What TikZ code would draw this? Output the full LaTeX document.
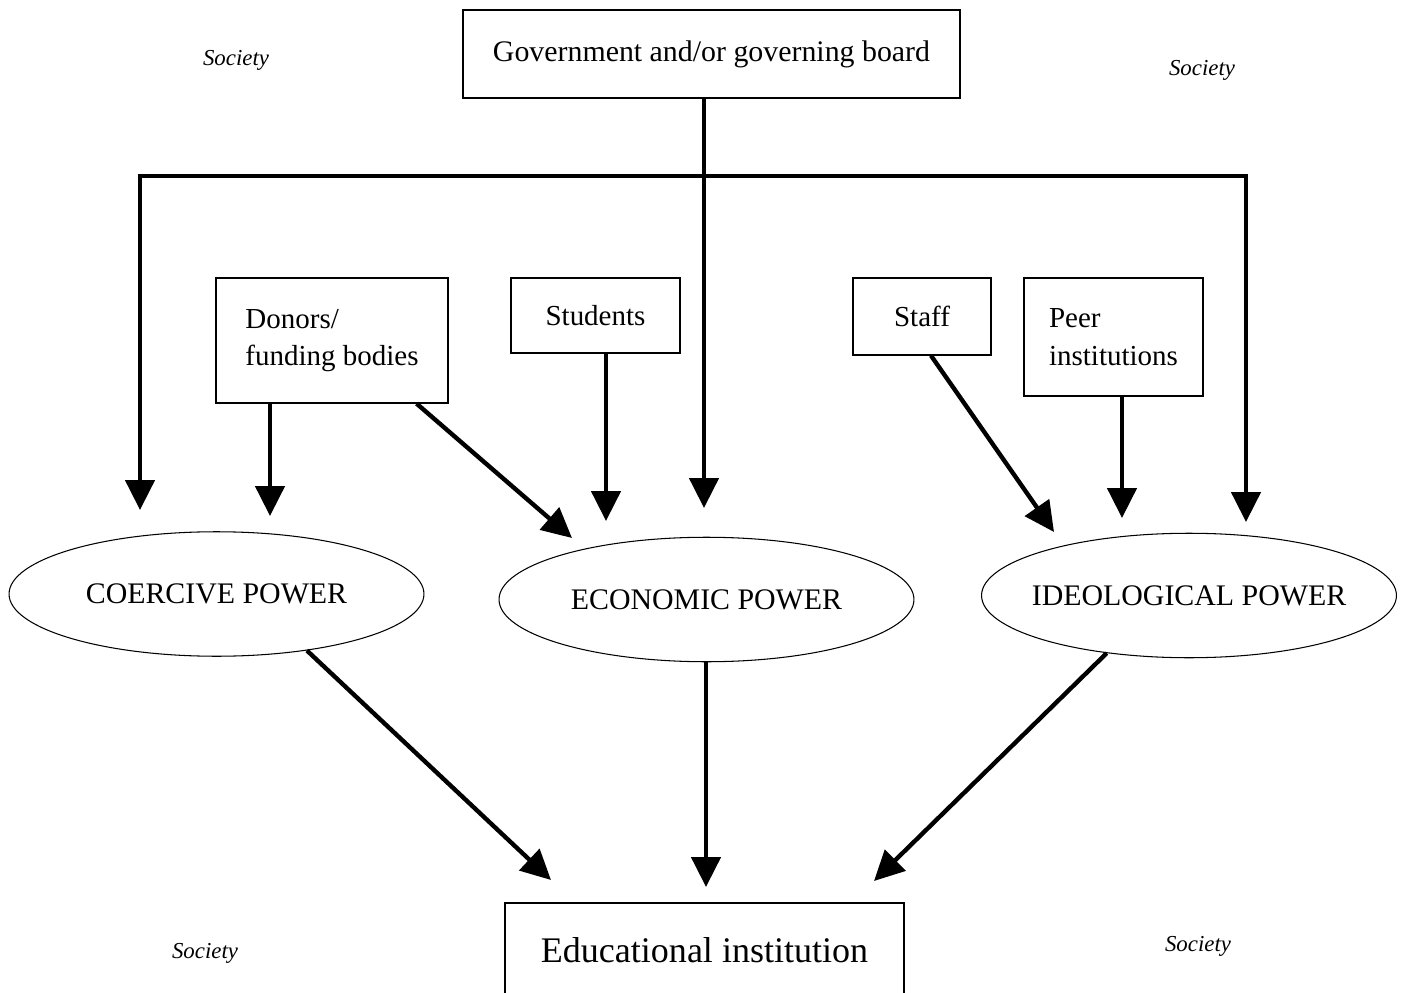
\documentclass[tikz,border=0pt]{standalone}
\usepackage{fontspec}
\setmainfont{Liberation Serif}
\usetikzlibrary{arrows.meta,shapes.geometric,calc}
\begin{document}
\begin{tikzpicture}[x=0.02cm,y=-0.02cm,
  >={Triangle[length=17pt,width=16.5pt]},
  box/.style={draw,line width=0.7pt,inner sep=0pt,align=left},
  boxtext/.style={font=\fontsize{16.5}{21.5}\selectfont},
  power/.style={ellipse,draw,line width=0.6pt,inner sep=0pt,
    minimum width=8.3cm,minimum height=2.49cm,
    font=\fontsize{17}{20}\selectfont},
  society/.style={font=\fontsize{13}{15}\selectfont\itshape},
  link/.style={line width=2.5pt,->},
  bar/.style={line width=2.5pt,<->}]
\clip (0,0) rectangle (1407,993);
\fill[white] (0,0) rectangle (1407,993);

% boxes
\node[box,minimum width=9.94cm,minimum height=1.76cm,
  font=\fontsize{17}{20}\selectfont,align=center] (gov) at (711.5,54)
  {Government and/or governing board};
\node[box,boxtext,minimum width=4.64cm,minimum height=2.5cm] (donors) at (332,340.5)
  {Donors/\\funding bodies};
\node[box,boxtext,minimum width=3.38cm,minimum height=1.5cm] (students) at (595.5,315.5)
  {Students};
\node[box,boxtext,minimum width=2.76cm,minimum height=1.54cm] (staff) at (922,316.5)
  {Staff};
\node[box,boxtext,minimum width=3.58cm,minimum height=2.36cm] (peer) at (1113.5,337)
  {Peer\\institutions};
\node[box,minimum width=7.98cm,minimum height=1.88cm,
  font=\fontsize{20.5}{24}\selectfont] (edu) at (704.5,950)
  {Educational institution};

% forms of power (text boxes of zero width keep the ellipses at a fixed size)
\node[power] (coercive) at (216.5,594) {\makebox[0pt]{COERCIVE POWER}};
\node[power] (economic) at (706.5,599.5) {\makebox[0pt]{ECONOMIC POWER}};
\node[power] (ideological) at (1189,595.5) {\makebox[0pt]{IDEOLOGICAL POWER}};

% society labels
\node[society] (s1) at (236,60) {Society};
\node[society] (s2) at (1202,70) {Society};
\node[society] (s3) at (205,953) {Society};
\node[society] (s4) at (1198,946) {Society};

% arrow ends
\coordinate (jL) at (140,176);
\coordinate (jR) at (1246,176);
\coordinate (tipL) at (140,510);
\coordinate (tipR) at (1246,522);
\coordinate (tipG) at (704,508);
\coordinate (tipDC) at (270,516);
\coordinate (tipDE) at (572,538);
\coordinate (tipSE) at (606,521);
\coordinate (tipSI) at (1054,532);
\coordinate (tipPI) at (1122,518);
\coordinate (tipCE) at (551,880);
\coordinate (tipEE) at (706,887);
\coordinate (tipIE) at (874,881);

% connectors
\draw[bar] (tipL) -- (jL) -- (jR) -- (tipR);
\draw[link] (gov.south -| tipG) -- (tipG);
\draw[link] (donors.south -| tipDC) -- (tipDC);
\draw[link] ($(donors.south east)+(-32,0)$) -- (tipDE);
\draw[link] (students.south -| tipSE) -- (tipSE);
\draw[link] ($(staff.south)+(9,0)$) -- (tipSI);
\draw[link] (peer.south -| tipPI) -- (tipPI);
\draw[link] (coercive.-32.5) -- (tipCE);
\draw[link] (economic.south -| tipEE) -- (tipEE);
\draw[link] (ideological.-145) -- (tipIE);
\end{tikzpicture}
\end{document}
